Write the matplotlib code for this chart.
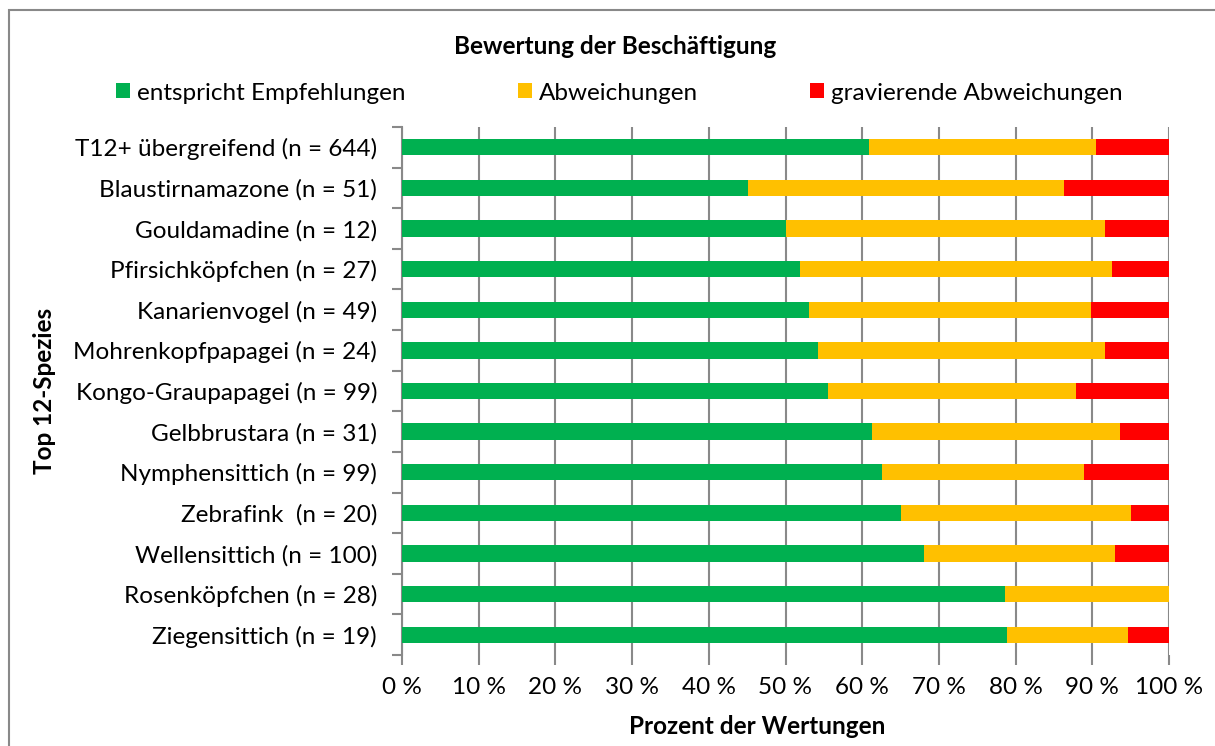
import numpy as np
import matplotlib
matplotlib.use("Agg")
import matplotlib.pyplot as plt
from matplotlib.patches import Rectangle

plt.rcParams['font.family'] = ['Lato', 'DejaVu Sans']

# categories, top to bottom
species = ['T12+ übergreifend (n = 644)', 'Blaustirnamazone (n = 51)',
           'Gouldamadine (n = 12)', 'Pfirsichköpfchen (n = 27)',
           'Kanarienvogel (n = 49)', 'Mohrenkopfpapagei (n = 24)',
           'Kongo-Graupapagei (n = 99)', 'Gelbbrustara (n = 31)',
           'Nymphensittich (n = 99)', 'Zebrafink  (n = 20)',
           'Wellensittich (n = 100)', 'Rosenköpfchen (n = 28)',
           'Ziegensittich (n = 19)']

# percentages per rating
empfehlung = [60.9, 45.1, 50.0, 51.9, 53.1, 54.2, 55.6, 61.3, 62.6, 65.0, 68.0, 78.6, 78.9]
abweichung = [29.6, 41.2, 41.7, 40.7, 36.7, 37.5, 32.3, 32.3, 26.3, 30.0, 25.0, 21.4, 15.8]
gravierend = [9.5, 13.7, 8.3, 7.4, 10.2, 8.3, 12.1, 6.4, 11.1, 5.0, 7.0, 0.0, 5.3]

series_names = ['entspricht Empfehlungen', 'Abweichungen', 'gravierende Abweichungen']
colors = ['#00B050', '#FFC000', '#FF0000']

xticks = [0, 10, 20, 30, 40, 50, 60, 70, 80, 90, 100]
xtick_labels = ['0 %', '10 %', '20 %', '30 %', '40 %', '50 %', '60 %',
                '70 %', '80 %', '90 %', '100 %']

fs = 17.5
fig = plt.figure(figsize=(12.15, 7.46), dpi=100)
ax = fig.add_axes([402 / 1215, 1 - 655 / 746, 767 / 1215, 528 / 746])

grid_c = '#898989'
y = np.arange(len(species))
left = np.zeros(len(species))
handles = []
for vals, name, c in zip([empfehlung, abweichung, gravierend], series_names, colors):
    vals = np.array(vals)
    b = ax.barh(y, vals, left=left, height=0.4, color=c, label=name, zorder=3)
    handles.append(b)
    left = left + vals

ax.set_xlim(0, 100)
ax.set_ylim(len(species) - 0.5, -0.5)

ax.set_xticks(xticks)
ax.set_xticklabels(xtick_labels, fontsize=fs)
ax.xaxis.grid(True, color=grid_c, linewidth=1.5, zorder=0)
ax.tick_params(axis='x', length=7, width=1.5, color=grid_c, pad=9)

# tick marks between categories, labels at centres
ax.set_yticks(np.arange(-0.5, len(species), 1.0))
ax.set_yticklabels([])
ax.set_yticks(y, minor=True)
ax.set_yticklabels(species, minor=True, fontsize=fs)
ax.tick_params(axis='y', which='major', length=7, width=1.5, color=grid_c)
ax.tick_params(axis='y', which='minor', length=0, pad=18)

for s in ['top', 'right', 'bottom']:
    ax.spines[s].set_visible(False)
ax.spines['left'].set_color(grid_c)
ax.spines['left'].set_linewidth(1.5)

fig.text(615 / 1215, 1 - 47 / 746, 'Bewertung der Beschäftigung', ha='center', va='center',
         fontsize=fs, fontweight='bold')
fig.text(757 / 1215, 1 - 727 / 746, 'Prozent der Wertungen', ha='center', va='center',
         fontsize=fs, fontweight='bold')
fig.text(45 / 1215, 1 - 391 / 746, 'Top 12-Spezies', ha='center', va='center',
         rotation=90, fontsize=fs, fontweight='bold')

fig.legend(handles=handles, labels=series_names, loc='center left', ncol=3,
           bbox_to_anchor=(116 / 1215, 1 - 93 / 746), frameon=False, fontsize=fs,
           handlelength=0.58, handleheight=0.58, handletextpad=0.3, columnspacing=4.6,
           borderaxespad=0, borderpad=0)

# chart frame: only top and left edges fall inside the image
fig.patches.append(Rectangle((9 / 1215, -0.05), 1.0, 0.05 + 1 - 10 / 746,
                             transform=fig.transFigure, fill=False,
                             edgecolor=grid_c, linewidth=1.5))

fig.savefig('out.png', dpi=100)
